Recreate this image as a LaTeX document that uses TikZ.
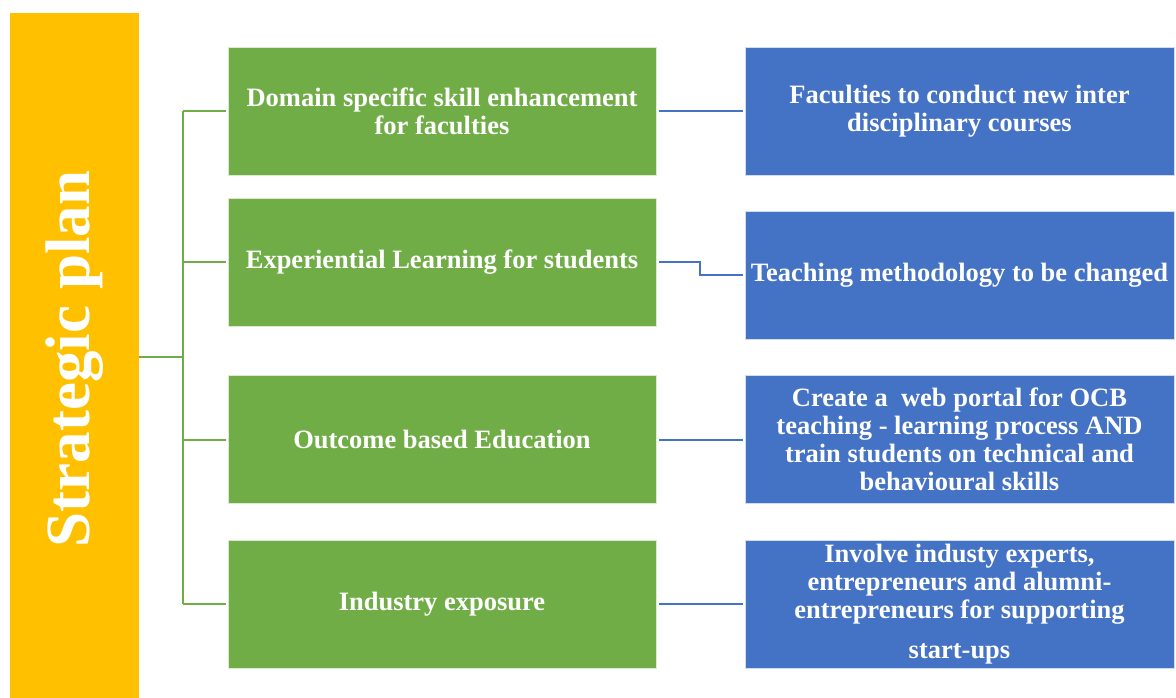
\documentclass[tikz,border=0pt]{standalone}
\usepackage{fontspec}
\setmainfont{Liberation Serif}
\definecolor{planyellow}{HTML}{FFC000}
\definecolor{aimgreen}{HTML}{70AD47}
\definecolor{actblue}{HTML}{4472C4}

\begin{document}
\begin{tikzpicture}[x=1pt, y=-1pt,
  aim/.style={fill=aimgreen, draw=white!75!aimgreen, line width=0.6pt, minimum width=428pt, minimum height=128pt,
    inner sep=0pt, text=white, align=center, font=\fontsize{26.5}{28}\selectfont\bfseries},
  act/.style={aim, fill=actblue, draw=white!75!actblue, minimum width=429pt},
  greenline/.style={aimgreen, line width=2pt},
  blueline/.style={actblue, line width=2pt, shorten <=3pt, shorten >=2pt}]
  \useasboundingbox (0, 0) rectangle (1176, 698);

  % the plan bar
  \node[fill=planyellow, minimum width=129pt, minimum height=685pt, inner sep=0pt] (plan) at (74.5, 355.5) {};
  \node[text=white, font=\fontsize{63}{65}\selectfont\bfseries, rotate=90] (title) at (75, 359) {Strategic plan};

  % aims
  \node[aim] (g1) at (442, 111) {Domain specific skill enhancement\\for faculties};
  \node[aim] (g2) at (442, 262) {Experiential Learning for students};
  \node[aim] (g3) at (442, 439.5) {Outcome based Education};
  \node[aim] (g4) at (442, 604) {Industry exposure};

  % actions
  \node[act] (b1) at (959.5, 111) {Faculties to conduct new inter\\disciplinary courses};
  \node[act] (b2) at (959.5, 275) {Teaching methodology to be changed};
  \node[act] (b3) at (959.5, 439.5) {Create a~ web portal for OCB\\teaching - learning process AND\\train students on technical and\\behavioural skills};
  \node[act] (b4) at (959.5, 604) {Involve industy experts,\\entrepreneurs and alumni-\\entrepreneurs for supporting\\[12pt]start-ups};

  % tree
  \coordinate (trunk) at (183, 357);
  \draw[greenline] (plan.east |- trunk) -- (trunk);
  \draw[greenline] (trunk |- g1.west) -- (trunk |- g4.west);
  \foreach \g in {g1, g2, g3, g4}
    \draw[greenline, shorten >=2pt] (trunk |- \g.west) -- (\g.west);

  \draw[blueline] (g1.east) -- (b1.west);
  \draw[blueline] (g2.east) -- ++(44, 0) |- (b2.west);
  \draw[blueline] (g3.east) -- (b3.west);
  \draw[blueline] (g4.east) -- (b4.west);
\end{tikzpicture}
\end{document}
